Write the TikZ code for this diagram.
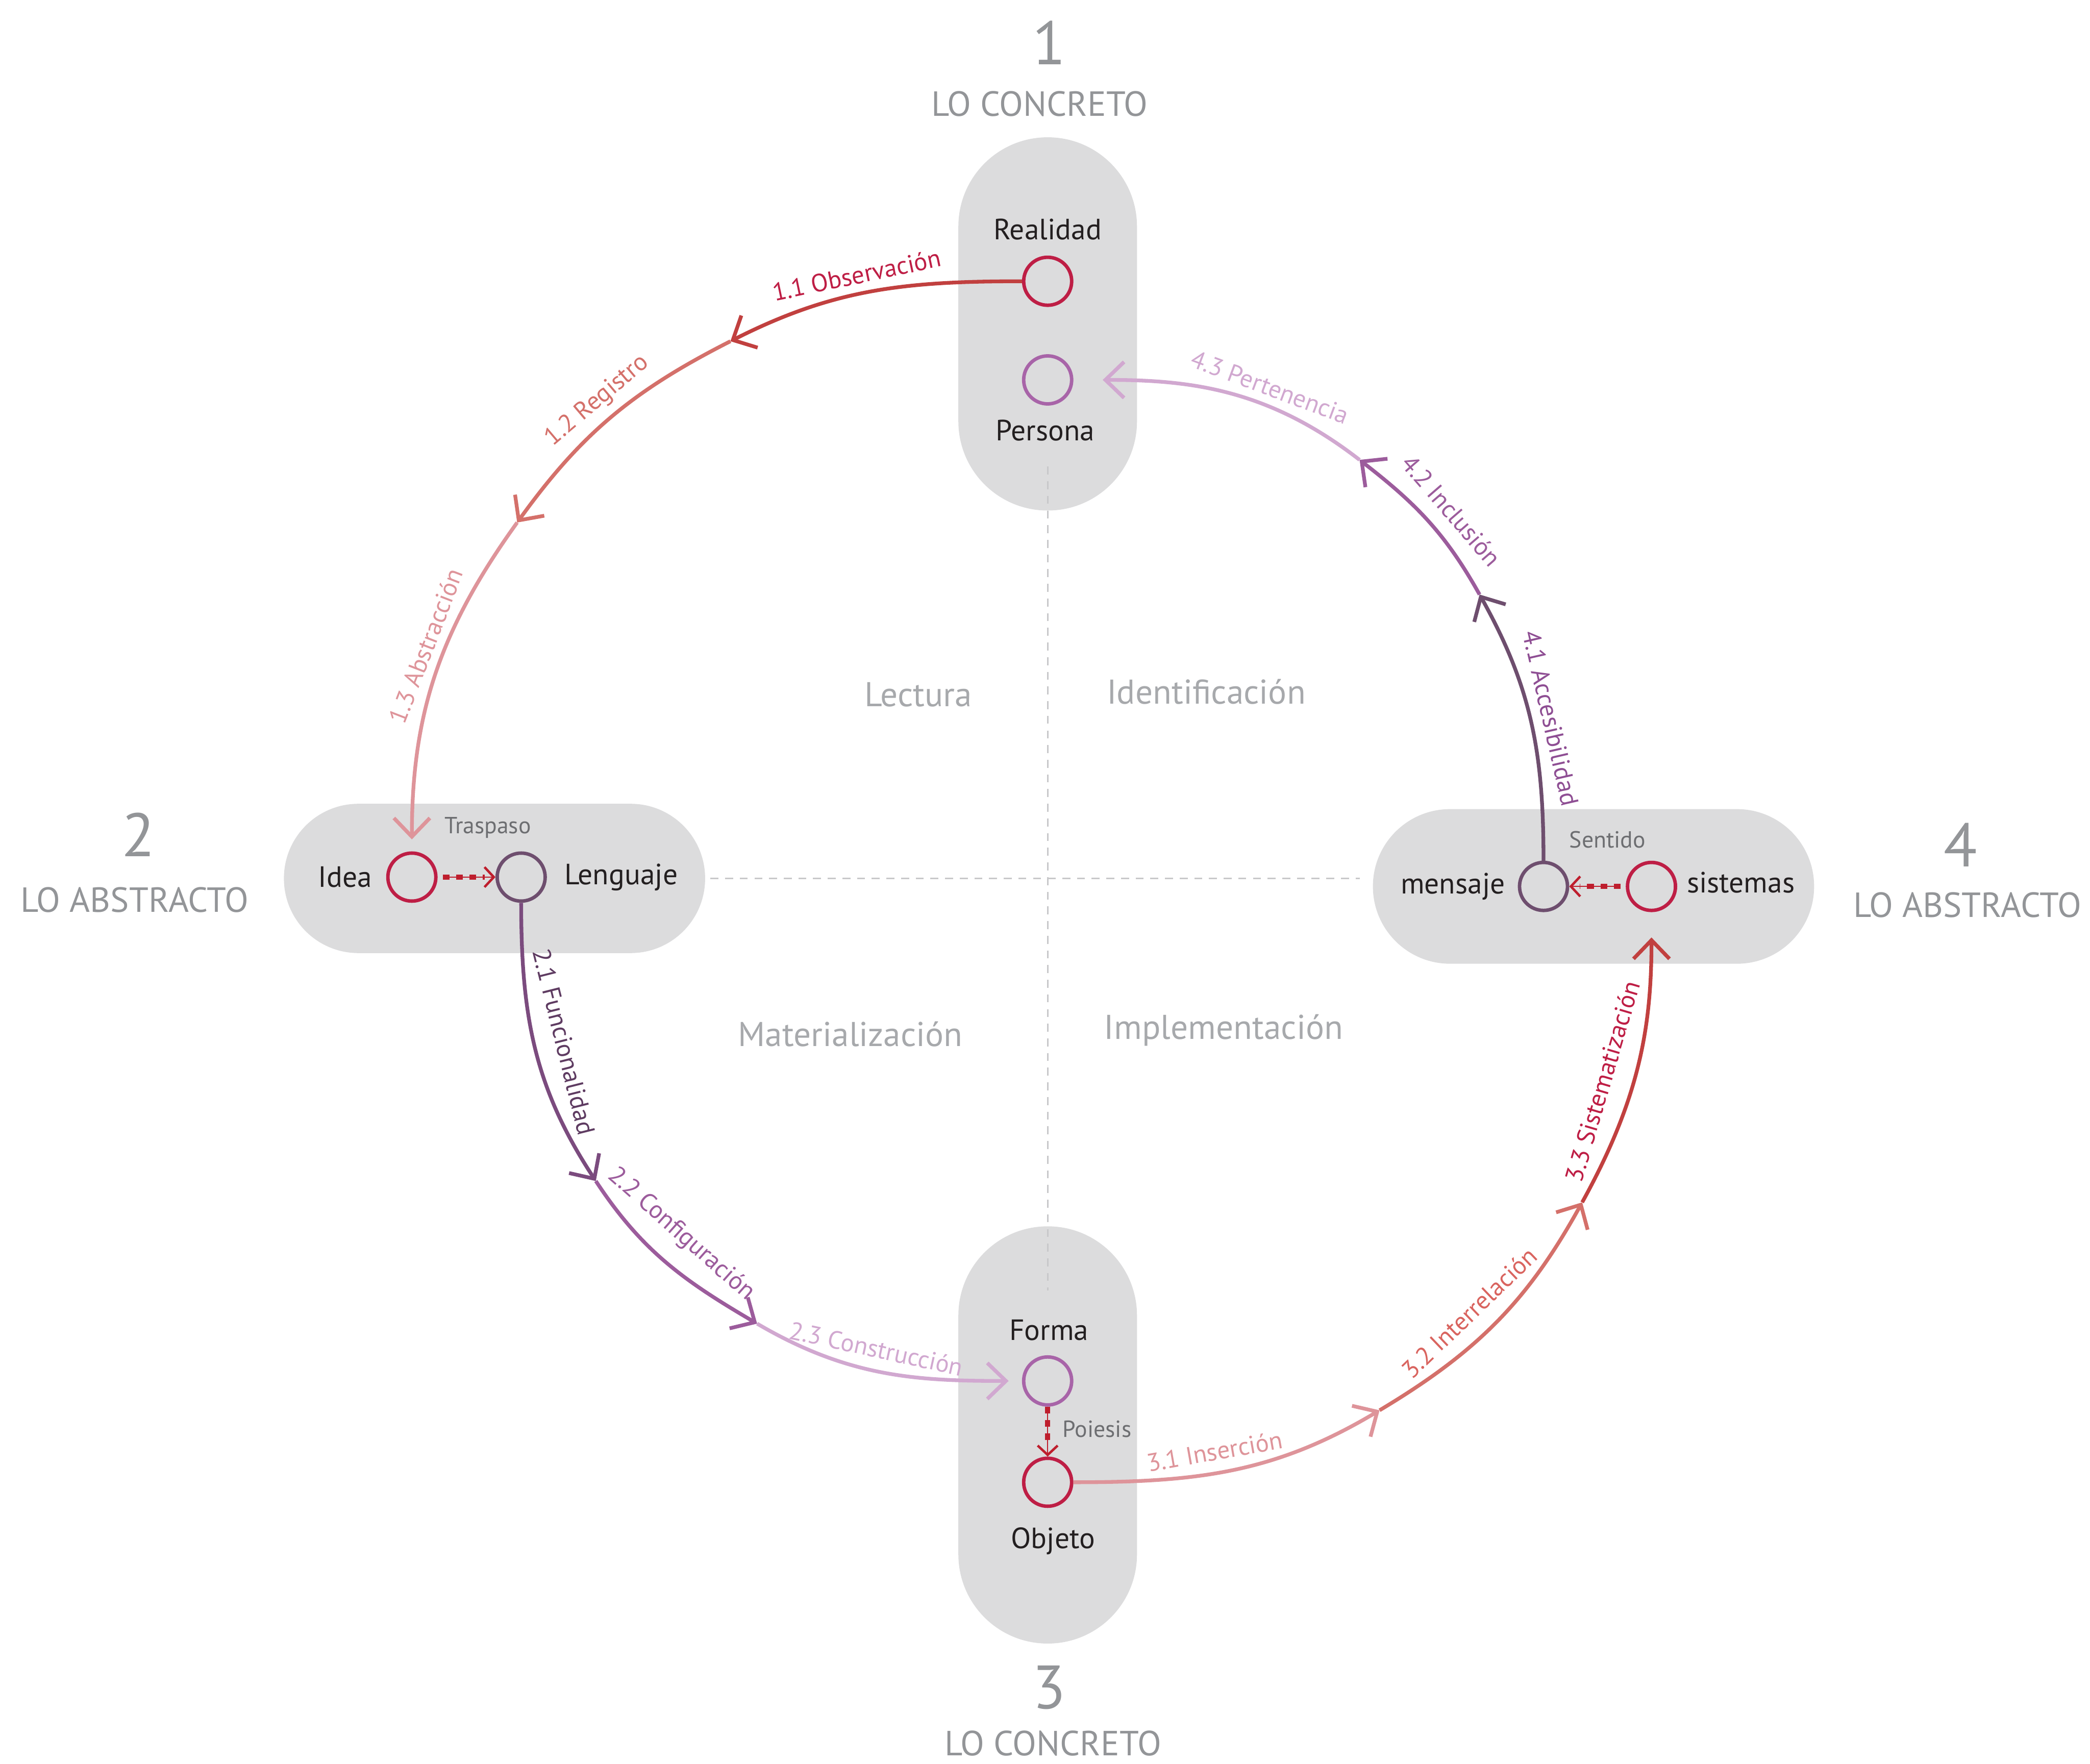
\documentclass[tikz,border=0pt]{standalone}
\usepackage{fontspec}
\setmainfont{PT Sans}
\usetikzlibrary{arrows.meta}
\definecolor{pillgray}{HTML}{DCDCDD}
\definecolor{crim}{HTML}{BE1E45}
\definecolor{orchid}{HTML}{A864A8}
\definecolor{mauve}{HTML}{6E4E6E}
\definecolor{ink}{HTML}{231F20}
\definecolor{numgray}{HTML}{939598}
\definecolor{quadgray}{HTML}{A7A9AC}
\definecolor{smallgray}{HTML}{6D6E71}
\definecolor{guide}{HTML}{C8C8CA}
\definecolor{dotred}{HTML}{BE1E2D}
\definecolor{cA}{HTML}{C1403F}
\definecolor{cB}{HTML}{D4706A}
\definecolor{cC}{HTML}{DE949A}
\definecolor{pA}{HTML}{7B4B7E}
\definecolor{pB}{HTML}{9C5C9C}
\definecolor{pC}{HTML}{D1A8D0}
\definecolor{pD}{HTML}{6E4E6E}
\definecolor{tA}{HTML}{BE1E45}
\definecolor{tB}{HTML}{D9645F}
\definecolor{tP}{HTML}{5E3B61}
\definecolor{tQ}{HTML}{8E4E93}
\begin{document}
\begin{tikzpicture}[x=1pt,y=1pt,
  pill/.style={fill=pillgray},
  circ/.style={circle, draw, line width=2.6pt, minimum size=36pt, inner sep=0pt},
  lbl/.style={text=ink, font=\fontsize{22}{26}\selectfont, inner sep=0pt},
  bignum/.style={text=numgray, font=\fontsize{46}{50}\selectfont, inner sep=0pt},
  region/.style={text=numgray, font=\fontsize{26.2}{30}\selectfont, inner sep=0pt},
  quad/.style={text=quadgray, font=\fontsize{25.8}{28}\selectfont, inner sep=0pt},
  small/.style={text=smallgray, font=\fontsize{17.5}{20}\selectfont, inner sep=0pt},
  arclbl/.style={font=\fontsize{18.8}{22}\selectfont, sloped, above, inner sep=6pt},
  seg/.style={line width=2.8pt, -{Straight Barb[length=14pt, width=27pt]}},
  guideline/.style={draw=guide, line width=1pt, dash pattern=on 6pt off 5pt},
  dotcon/.style={draw=dotred, line width=0.9pt, -{Straight Barb[length=7pt,width=15pt,line width=1.8pt]},
     postaction={draw=dotred, -, line width=4pt, dash pattern=on 5pt off 5pt, shorten >=8pt}},
]
\useasboundingbox (0,0) rectangle (1568,-1323);
% pills
\fill[pill, rounded corners=66.9pt] (719,-103) rectangle (853,-383);
\fill[pill, rounded corners=66.9pt] (719,-920) rectangle (853,-1233);
\fill[pill, rounded corners=55.9pt] (213,-603) rectangle (529,-715);
\fill[pill, rounded corners=57.9pt] (1030,-607) rectangle (1361,-723);
% guides
\coordinate (vtop) at (786,-350); \coordinate (vbot) at (786,-968);
\coordinate (hl) at (533,-659); \coordinate (hr) at (1020,-659);
\draw[guideline] (vtop) -- (vbot);
\draw[guideline] (hl) -- (hr);
% headings
\node[bignum] (n1) at (787,-32) {1};
\node[region] (r1) at (780,-78) {LO CONCRETO};
\node[bignum] (n2) at (104,-626) {2};
\node[region] (r2) at (101,-675) {LO ABSTRACTO};
\node[bignum] (n3) at (787,-1266) {3};
\node[region] (r3) at (790,-1308) {LO CONCRETO};
\node[bignum] (n4) at (1471,-634) {4};
\node[region] (r4) at (1476,-679) {LO ABSTRACTO};
% quadrant labels
\node[quad] (qlec) at (689,-521) {Lectura};
\node[quad] (qide) at (905,-519) {Identificación};
\node[quad] (qmat) at (638,-776) {Materialización};
\node[quad] (qimp) at (918,-773) {Implementación};
% circles
\node[circ, draw=crim] (realidad) at (786,-211) {};
\node[circ, draw=orchid] (persona) at (786,-285) {};
\node[circ, draw=crim] (idea) at (309,-658) {};
\node[circ, draw=mauve] (lenguaje) at (391,-658) {};
\node[circ, draw=mauve] (mensaje) at (1158,-665) {};
\node[circ, draw=crim] (sistemas) at (1239,-665) {};
\node[circ, draw=orchid] (forma) at (786,-1036) {};
\node[circ, draw=crim] (objeto) at (786,-1112) {};
% node labels
\node[lbl] (tReal) at (786,-172) {Realidad};
\node[lbl] (tPers) at (784,-323) {Persona};
\node[lbl] (tIdea) at (259,-658) {Idea};
\node[lbl] (tLeng) at (466,-658) {Lenguaje};
\node[lbl] (tMens) at (1090,-665) {mensaje};
\node[lbl] (tSist) at (1306,-662) {sistemas};
\node[lbl] (tForm) at (787,-998) {Forma};
\node[lbl] (tObj) at (790,-1156) {Objeto};
\node[small] (tTras) at (366,-621) {Traspaso};
\node[small] (tSent) at (1206,-630) {Sentido};
\node[small] (tPoi) at (823,-1072) {Poiesis};
% inner dotted connectors
\draw[dotcon, shorten <=4pt] (idea) -- (lenguaje);
\draw[dotcon, shorten <=4pt] (sistemas) -- (mensaje);
\draw[dotcon, shorten <=0pt] (forma) -- (objeto);
% waypoints
\coordinate (p11) at (548,-256); \coordinate (p12) at (388,-392);
\coordinate (q21) at (447,-886); \coordinate (q22) at (568,-993);
\coordinate (r31) at (1035,-1058); \coordinate (r32) at (1187,-902);
\coordinate (s41) at (1110,-446); \coordinate (s42) at (1020,-345);
% cycle 1
\draw[seg, draw=cA] (realidad.west) to[out=180, in=26.9] node[arclbl, text=tA, pos=0.54] {1.1 Observación} (p11);
\draw[seg, draw=cB] (p11) to[out=206.9, in=54.2] node[arclbl, text=cB, pos=0.5] {1.2 Registro} (p12);
\draw[seg, draw=cC, shorten >=9pt] (p12) to[out=234.2, in=90] node[arclbl, text=cC, pos=0.42] {1.3 Abstracción} (idea.north);
% cycle 2
\draw[seg, draw=pA] (lenguaje.south) to[out=270, in=123.3] node[arclbl, text=tP, pos=0.5, inner sep=14pt] {2.1 Funcionalidad} (q21);
\draw[seg, draw=pB] (q21) to[out=303.3, in=149.6] node[arclbl, text=pB, pos=0.46, inner sep=13pt] {2.2 Configuración} (q22);
\draw[seg, draw=pC, shorten >=10pt] (q22) to[out=329.6, in=180] node[arclbl, text=pC, pos=0.45, inner sep=8pt] {2.3 Construcción} (forma.west);
% cycle 3
\draw[seg, draw=cC] (objeto.east) to[out=0, in=210.9] node[arclbl, text=cC, pos=0.45, inner sep=8pt] {3.1 Inserción} (r31);
\draw[seg, draw=cB] (r31) to[out=30.9, in=241.1] node[arclbl, text=tB, pos=0.45, inner sep=11pt] {3.2 Interrelación} (r32);
\draw[seg, draw=cA, shorten >=19pt] (r32) to[out=61.1, in=270] node[arclbl, text=tA, pos=0.4, inner sep=14pt] {3.3 Sistematización} (sistemas.south);
% cycle 4
\draw[seg, draw=pD] (mensaje.north) to[out=90, in=299.2] node[arclbl, text=tQ, pos=0.5, inner sep=7pt] {4.1 Accesibilidad} (s41);
\draw[seg, draw=pB] (s41) to[out=119.2, in=322.2] node[arclbl, text=pB, pos=0.45, inner sep=10pt] {4.2 Inclusión} (s42);
\draw[seg, draw=pC, shorten >=22pt] (s42) to[out=142.2, in=0] node[arclbl, text=pC, pos=0.36] {4.3 Pertenencia} (persona.east);
\end{tikzpicture}
\end{document}
